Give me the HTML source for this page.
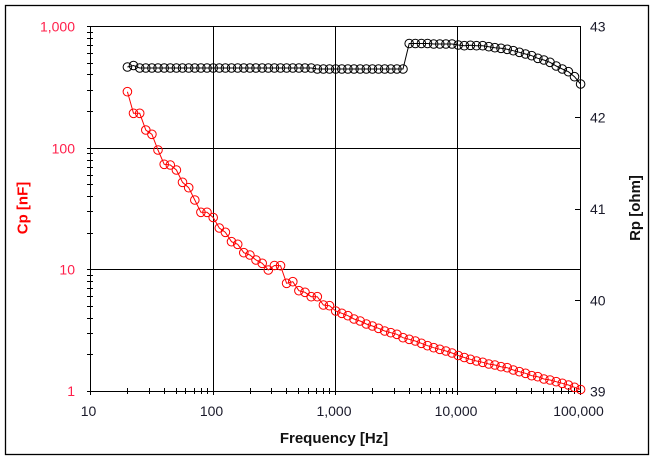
<!DOCTYPE html>
<html>
<head>
<meta charset="utf-8">
<style>
html,body{margin:0;padding:0;background:#fff;}
svg{display:block;}
text{font-family:"Liberation Sans","DejaVu Sans",sans-serif;}
</style>
</head>
<body>
<svg width="657" height="462" viewBox="0 0 657 462" xmlns="http://www.w3.org/2000/svg">
<defs>
<marker id="mr" markerWidth="12" markerHeight="12" refX="6" refY="6" markerUnits="userSpaceOnUse"><circle cx="6" cy="6" r="4.3" fill="none" stroke="#ff0000" stroke-width="1"/></marker>
<marker id="mk" markerWidth="12" markerHeight="12" refX="6" refY="6" markerUnits="userSpaceOnUse"><circle cx="6" cy="6" r="4.3" fill="none" stroke="#000" stroke-width="1"/></marker>
</defs>
<rect x="0" y="0" width="657" height="462" fill="#fff"/>
<rect x="5.5" y="5.5" width="643" height="449" fill="none" stroke="#000" stroke-width="1.3"/>

<!-- gridlines -->
<g stroke="#000" stroke-width="1" shape-rendering="crispEdges">
<line x1="213.5" y1="26.5" x2="213.5" y2="391.5"/>
<line x1="335.5" y1="26.5" x2="335.5" y2="391.5"/>
<line x1="457.5" y1="26.5" x2="457.5" y2="391.5"/>
<line x1="90.5" y1="148.5" x2="580.5" y2="148.5"/>
<line x1="90.5" y1="269.5" x2="580.5" y2="269.5"/>
<rect x="90.5" y="26.5" width="490" height="365" fill="none"/>
</g>

<!-- x ticks -->
<path stroke="#000" stroke-width="1" shape-rendering="crispEdges" fill="none" d="
M90.5,388V395 M213.5,388V395 M335.5,388V395 M457.5,388V395 M580.5,388V395
M127.5,388V394 M149.5,388V394 M164.5,388V394 M176.5,388V394 M185.5,388V394 M194.5,388V394 M201.5,388V394 M207.5,388V394
M250.5,388V394 M271.5,388V394 M286.5,388V394 M298.5,388V394 M308.5,388V394 M316.5,388V394 M323.5,388V394 M329.5,388V394
M372.5,388V394 M394.5,388V394 M409.5,388V394 M421.5,388V394 M430.5,388V394 M439.5,388V394 M446.5,388V394 M452.5,388V394
M495.5,388V394 M516.5,388V394 M531.5,388V394 M543.5,388V394 M553.5,388V394 M561.5,388V394 M568.5,388V394 M574.5,388V394
"/>
<!-- left y ticks -->
<path stroke="#000" stroke-width="1" shape-rendering="crispEdges" fill="none" d="
M87,391.5H93 M87,269.5H93 M87,148.5H93 M87,26.5H93
M87,354.5H93 M87,333.5H93 M87,318.5H93 M87,306.5H93 M87,296.5H93 M87,288.5H93 M87,281.5H93 M87,275.5H93
M87,233.5H93 M87,211.5H93 M87,196.5H93 M87,184.5H93 M87,175.5H93 M87,167.5H93 M87,160.5H93 M87,153.5H93
M87,111.5H93 M87,90.5H93 M87,74.5H93 M87,63.5H93 M87,53.5H93 M87,45.5H93 M87,38.5H93 M87,32.5H93
"/>
<!-- right y ticks -->
<path stroke="#000" stroke-width="1" shape-rendering="crispEdges" fill="none" d="
M575,26.5H581 M575,117.5H581 M575,209.5H581 M575,300.5H581 M575,391.5H581
"/>

<!-- left tick labels -->
<g font-size="14" fill="#ff1f4a" text-anchor="end">
<text x="75" y="31.5">1,000</text>
<text x="75" y="153.5">100</text>
<text x="75" y="274.5">10</text>
<text x="75" y="396">1</text>
</g>
<!-- bottom tick labels -->
<g font-size="14" fill="#1a1a2a" text-anchor="middle">
<text x="88.5" y="416">10</text>
<text x="211.5" y="416">100</text>
<text x="334" y="416">1,000</text>
<text x="456" y="416">10,000</text>
<text x="578.5" y="416">100,000</text>
</g>
<!-- right tick labels -->
<g font-size="14" fill="#1a1a2a" text-anchor="start">
<text x="590" y="31.5">43</text>
<text x="590" y="122.5">42</text>
<text x="590" y="214">41</text>
<text x="590" y="305.5">40</text>
<text x="590" y="396.5">39</text>
</g>

<!-- axis titles -->
<text x="334" y="443" font-size="15" font-weight="bold" fill="#111" text-anchor="middle">Frequency [Hz]</text>
<text transform="translate(27.5,208) rotate(-90)" font-size="15" font-weight="bold" fill="#ff0000" text-anchor="middle">Cp [nF]</text>
<text transform="translate(640,208) rotate(-90)" font-size="15" font-weight="bold" fill="#111" text-anchor="middle">Rp [ohm]</text>

<!-- Rp series (black) -->
<polyline fill="none" stroke="#000" stroke-width="1" marker-start="url(#mk)" marker-mid="url(#mk)" marker-end="url(#mk)" points="
127.4,67 133.5,65.5 139.7,68 145.8,68 151.9,68 158.0,68 164.2,68 170.3,68 176.4,68 182.5,68 188.7,68 194.8,68 200.9,68 207.0,68 213.2,68 219.3,68 225.4,68 231.5,68 237.7,68 243.8,68 249.9,68 256.0,68 262.2,68 268.3,68 274.4,68 280.5,68 286.6,68 292.8,68 298.9,68 305.0,68 311.2,68
317.3,69 323.4,69 329.5,69 335.7,69 341.8,69 347.9,69 354.0,69 360.2,69 366.3,69 372.4,69 378.5,69 384.7,69 390.8,69 396.9,69 403.0,69
409.2,43.5 415.3,43.5 421.4,43.5 427.5,43.5 433.7,44 439.8,44 445.9,44 452.0,44 458.2,45 464.3,45.7 470.4,45.3 476.5,45.7 482.7,45.7 488.8,46.7 494.9,47.7 501.0,48.3 507.2,49.3 513.3,50.7 519.4,52.3 525.5,54 531.7,55.7 537.8,58.3 543.9,60 550.0,62.3 556.2,66 562.3,69 568.4,71.7 574.5,76.7 580.6,84"/>

<!-- Cp series (red) -->
<polyline fill="none" stroke="#ff0000" stroke-width="1" marker-start="url(#mr)" marker-mid="url(#mr)" marker-end="url(#mr)" points="
127.4,91.7 133.5,113.3 139.7,113.3 145.8,130 151.9,134.3 158.0,150 164.2,164.3 170.3,165 176.4,170 182.5,182.3 188.7,187.7 194.8,200 200.9,212.3 207.0,212.3 213.2,217.5 219.3,228 225.4,232.3 231.5,241.7 237.7,244.3 243.8,252.7 249.9,255 256.0,260 262.2,263.3 268.3,270 274.4,265.5 280.5,265.7 286.6,283.3 292.8,281.7 298.9,290.7 305.0,292.3 311.2,296.7 317.3,296.7 323.4,305 329.5,305.7 335.7,311 341.8,313.3 347.9,315.7 354.0,319 360.2,321 366.3,324 372.4,326 378.5,328.3 384.7,331 390.8,332.7 396.9,334.3 403.0,337.7 409.2,339.3 415.3,341 421.4,343.3 427.5,345.7 433.7,347.7 439.8,349.3 445.9,351 452.0,353 458.2,355.5 464.3,357.5 470.4,359.3 476.5,361 482.7,362.3 488.8,364 494.9,365 501.0,366.7 507.2,367.7 513.3,370 519.4,371.7 525.5,373.3 531.7,375.7 537.8,376.7 543.9,379 550.0,380 556.2,381.7 562.3,383.3 568.4,385 574.5,387.3 580.6,389.5"/>
</svg>
</body>
</html>
